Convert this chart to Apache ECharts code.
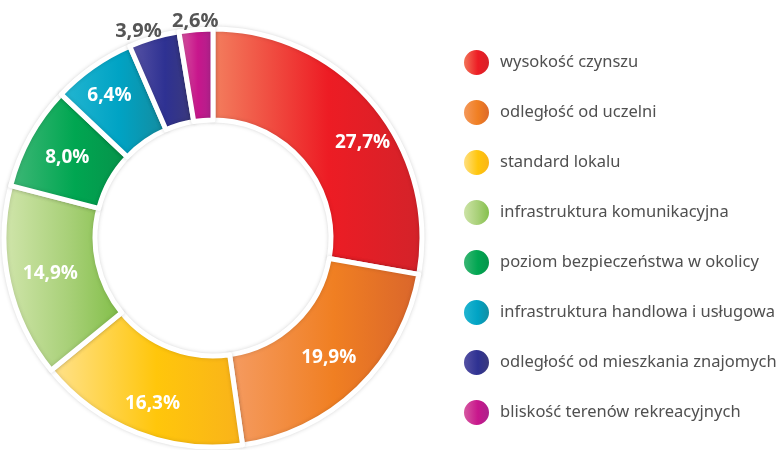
<!DOCTYPE html>
<html>
<head>
<meta charset="utf-8">
<script src="https://cdn.jsdelivr.net/npm/echarts@6/dist/echarts.min.js"></script>
<style>
  html, body { margin: 0; padding: 0; background: #fff; }
  #chart { width: 781px; height: 450px; }
</style>
</head>
<body>
<div id="chart"></div>
<script>
const categories = [
  "wysokość czynszu",
  "odległość od uczelni",
  "standard lokalu",
  "infrastruktura komunikacyjna",
  "poziom bezpieczeństwa w okolicy",
  "infrastruktura handlowa i usługowa",
  "odległość od mieszkania znajomych",
  "bliskość terenów rekreacyjnych",
];
const values = [27.7, 19.9, 16.3, 14.9, 8.0, 6.4, 3.9, 2.6];
// light / main / dark stops for each slice gradient
const gradients = [
  ["#f3805f", "#ed1c24", "#d2232a"],
  ["#f59c63", "#f07f22", "#d9652c"],
  ["#ffe391", "#ffc60b", "#f9b21b"],
  ["#d2e6ad", "#a8d078", "#7fbd45"],
  ["#41b878", "#00a651", "#07914a"],
  ["#26b7d2", "#00a3c4", "#168a9c"],
  ["#5b56a6", "#2e3192", "#3d3b78"],
  ["#d862a4", "#c8168c", "#a7258b"],
];
const outsideLabels = [6, 7];

function grad(c) {
  return new echarts.graphic.LinearGradient(0, 0, 1, 0, [
    { offset: 0, color: c[0] },
    { offset: 0.55, color: c[1] },
    { offset: 1, color: c[2] },
  ]);
}

const chart = echarts.init(document.getElementById("chart"));
const option = {
  animation: false,
  legend: {
    orient: "vertical",
    left: 457,
    top: 43,
    itemWidth: 27,
    itemHeight: 27,
    itemGap: 21,
    icon: "circle",
    textStyle: {
      color: "#505050",
      fontSize: 16.5,
      fontFamily: "Noto Sans",
      padding: [0, 0, 0, 5],
    },
    data: categories,
  },
  series: [
    {
      type: "pie",
      center: [213, 238],
      radius: [118, 209],
      startAngle: 90,
      clockwise: true,
      avoidLabelOverlap: false,
      itemStyle: {
        borderColor: "#fff",
        borderWidth: 5,
        shadowBlur: 4,
        shadowColor: "rgba(0,0,0,0.15)",
      },
      label: {
        show: true,
        position: "inside",
        color: "#fff",
        fontSize: 19,
        fontWeight: "bold",
        fontFamily: "Open Sans",
        formatter: (p) => p.value.toFixed(1).replace(".", ",") + "%",
      },
      labelLine: { show: false },
      labelLayout: (p) => {
        if (p.dataIndex === 0) return { dx: 22, dy: 12 };
        if (p.dataIndex === 2) return { dy: 10 };
        if (p.dataIndex === 5) return { dx: -8, dy: -6 };
        if (p.dataIndex === 6) return { dx: 14, dy: -2 };
        if (p.dataIndex === 7) return { dx: 28, dy: -4 };
        return {};
      },
      data: categories.map((name, i) => {
        const item = {
          name,
          value: values[i],
          itemStyle: { color: grad(gradients[i]) },
        };
        if (outsideLabels.includes(i)) {
          item.label = { position: "outside", color: "#555", fontSize: 20 };
          item.labelLine = { show: false, length: 4, length2: 0 };
        }
        return item;
      }),
    },
  ],
};
chart.setOption(option);
</script>
</body>
</html>
